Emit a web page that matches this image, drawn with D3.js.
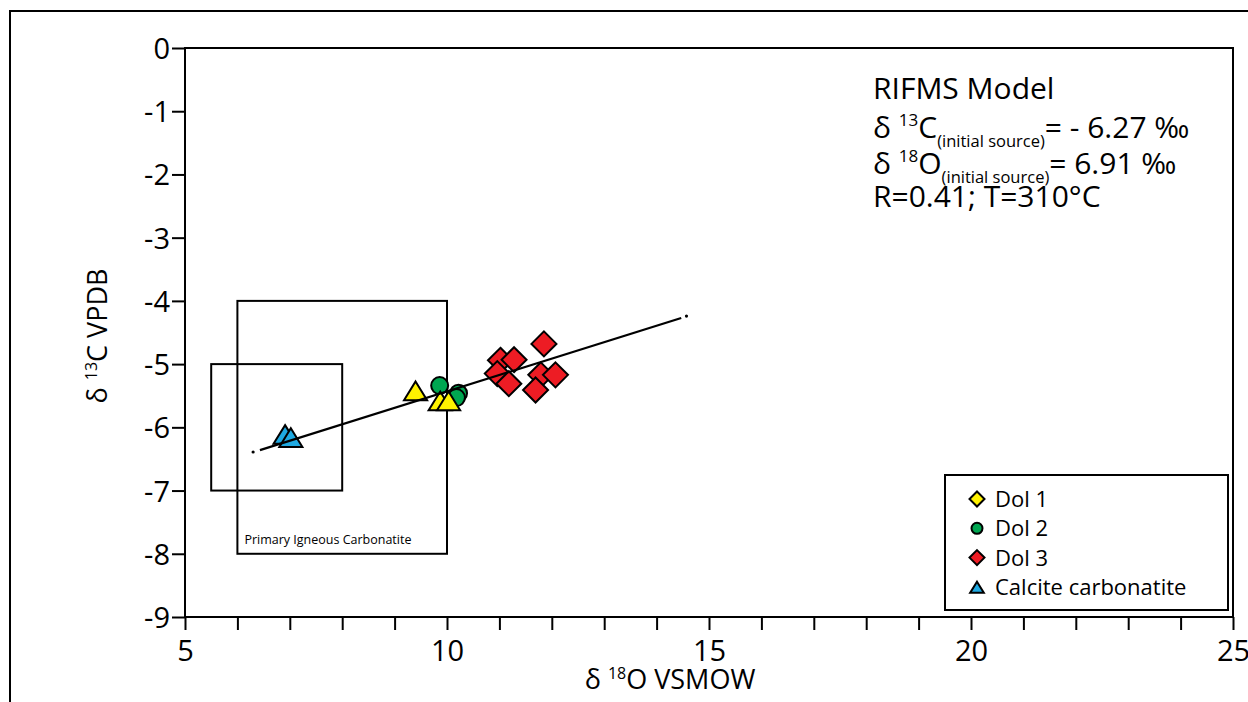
<!DOCTYPE html>
<html><head><meta charset="utf-8">
<script src="https://cdn.jsdelivr.net/npm/d3@7"></script>
<style>body{margin:0;background:#fff}svg{display:block;font-family:"Open Sans",sans-serif}</style>
</head><body><svg id="c" width="1248" height="702"></svg>
<script>
// ---- data ----
const xTicks = [5,6,7,8,9,10,11,12,13,14,15,16,17,18,19,20,21,22,23,24,25];
const xTickLabels = [5,10,15,20,25];
const yTicks = [0,-1,-2,-3,-4,-5,-6,-7,-8,-9];
const dol1 = [[9.40,-5.44],[9.87,-5.60],[10.03,-5.60]];
const dol2 = [[9.86,-5.34],[10.22,-5.46],[10.18,-5.53]];
const dol3 = [[11.85,-4.68],[11.02,-4.94],[11.28,-4.93],[10.96,-5.15],[11.18,-5.31],[11.79,-5.17],[12.07,-5.17],[11.69,-5.41]];
const calcite = [[6.91,-6.13],[7.02,-6.18]];
const modelLine = [[6.43,-6.36],[14.47,-4.27]];
const modelEnds = [[6.30,-6.39],[14.57,-4.24]];
const boxes = [{x0:5.5,x1:8,y0:-5,y1:-7},{x0:6,x1:10,y0:-4,y1:-8}];
const boxLabel = "Primary Igneous Carbonatite";
const legendItems = [
  {name:"Dol 1", shape:"diamond", color:"#fff200"},
  {name:"Dol 2", shape:"circle", color:"#00a651"},
  {name:"Dol 3", shape:"diamond", color:"#ed1c24"},
  {name:"Calcite carbonatite", shape:"triangle", color:"#1fa9e1"}
];

// ---- layout ----
const svg = d3.select("#c");
const x = d3.scaleLinear().domain([5,25]).range([185,1233]);
const y = d3.scaleLinear().domain([0,-9]).range([48,617]);

// outer frame
svg.append("rect").attr("x",10).attr("y",11).attr("width",1260).attr("height",720)
  .attr("fill","none").attr("stroke","#000").attr("stroke-width",2);

// plot frame
svg.append("rect").attr("x",x(5)).attr("y",y(0)).attr("width",x(25)-x(5)).attr("height",y(-9)-y(0))
  .attr("fill","none").attr("stroke","#000").attr("stroke-width",2);

// axes
const xAxis = d3.axisBottom(x).tickValues(xTicks).tickSize(13)
  .tickFormat(d => xTickLabels.includes(d) ? d : "");
const gx = svg.append("g").attr("transform",`translate(0,${y(-9)})`).call(xAxis);
gx.select(".domain").remove();
gx.selectAll("line").attr("stroke","#000").attr("stroke-width",2);
gx.selectAll("text").attr("font-size",29).attr("fill","#000").attr("font-family","Open Sans").attr("dy","0.98em");

const yAxis = d3.axisLeft(y).tickValues(yTicks).tickSize(13).tickFormat(d=>d);
const gy = svg.append("g").attr("transform",`translate(${x(5)},0)`).call(yAxis);
gy.select(".domain").remove();
gy.selectAll("line").attr("stroke","#000").attr("stroke-width",2);
gy.selectAll("text").attr("font-size",29).attr("fill","#000").attr("font-family","Open Sans").attr("x",-15).attr("dy","0.36em");

// axis titles
const xt = svg.append("text").attr("x",670).attr("y",689).attr("text-anchor","middle").attr("font-size",27);
xt.append("tspan").text("δ ");
xt.append("tspan").text("18").attr("font-size",16).attr("dy",-10);
xt.append("tspan").text("O VSMOW").attr("dy",10);
const yt = svg.append("text").attr("transform","translate(107,336) rotate(-90)").attr("text-anchor","middle").attr("font-size",27);
yt.append("tspan").text("δ ");
yt.append("tspan").text("13").attr("font-size",16).attr("dy",-10);
yt.append("tspan").text("C VPDB").attr("dy",10);

// boxes
svg.selectAll("rect.box").data(boxes).enter().append("rect").attr("class","box")
  .attr("x",d=>x(d.x0)).attr("y",d=>y(d.y0)).attr("width",d=>x(d.x1)-x(d.x0)).attr("height",d=>y(d.y1)-y(d.y0))
  .attr("fill","none").attr("stroke","#000").attr("stroke-width",2);
svg.append("text").attr("x",x(6)+7).attr("y",y(-8)-10).attr("font-size",12.5).text(boxLabel);

// symbols
const sym = {
  diamond: s => `M0,${-s}L${s},0L0,${s}L${-s},0Z`,
  triangle: s => `M0,${-s*0.95}L${s*1.05},${s*0.75}L${-s*1.05},${s*0.75}Z`
};
function drawPts(data, shape, color, size){
  const g = svg.append("g");
  data.forEach(p=>{
    if(shape==="circle"){
      g.append("circle").attr("cx",x(p[0])).attr("cy",y(p[1])).attr("r",size)
        .attr("fill",color).attr("stroke","#000").attr("stroke-width",2);
    } else {
      g.append("path").attr("d",sym[shape](size)).attr("transform",`translate(${x(p[0])},${y(p[1])})`)
        .attr("fill",color).attr("stroke","#000").attr("stroke-width",2).attr("stroke-linejoin","miter");
    }
  });
}
drawPts(calcite,"triangle","#1fa9e1",11);
drawPts(dol3,"diamond","#ed1c24",12.5);
drawPts(dol2,"circle","#00a651",8.5);
drawPts(dol1,"triangle","#fff200",11);

// model line
svg.append("path").attr("d",d3.line().x(d=>x(d[0])).y(d=>y(d[1]))(modelLine))
  .attr("fill","none").attr("stroke","#000").attr("stroke-width",2.2);
svg.selectAll("circle.end").data(modelEnds).enter().append("circle").attr("class","end")
  .attr("cx",d=>x(d[0])).attr("cy",d=>y(d[1])).attr("r",1.6).attr("fill","#000");

// annotation
const ax = 873;
svg.append("text").attr("x",ax).attr("y",99).attr("font-size",30).text("RIFMS Model");
function isoLine(yy, iso, el, val){
  const t = svg.append("text").attr("x",ax).attr("y",yy).attr("font-size",30);
  t.append("tspan").text("δ ");
  t.append("tspan").text(iso).attr("font-size",17).attr("dy",-12);
  t.append("tspan").text(el).attr("dy",12);
  t.append("tspan").text("(initial source)").attr("font-size",16.5).attr("dy",9);
  t.append("tspan").text(val).attr("dy",-9);
}
isoLine(138,"13","C","= - 6.27 ‰");
isoLine(174,"18","O","= 6.91 ‰");
svg.append("text").attr("x",ax).attr("y",207).attr("font-size",30).text("R=0.41; T=310°C");

// legend
const lg = svg.append("g");
lg.append("rect").attr("x",945).attr("y",475).attr("width",283).attr("height",135)
  .attr("fill","#fff").attr("stroke","#000").attr("stroke-width",2);
legendItems.forEach((d,i)=>{
  const cy = 499 + i*29.3;
  if(d.shape==="circle"){
    lg.append("circle").attr("cx",977).attr("cy",cy).attr("r",5.5).attr("fill",d.color).attr("stroke","#000").attr("stroke-width",2);
  } else {
    lg.append("path").attr("d",sym[d.shape](d.shape==="diamond"?7.5:6.5)).attr("transform",`translate(977,${cy+(d.shape==="triangle"?1:0)})`)
      .attr("fill",d.color).attr("stroke","#000").attr("stroke-width",2);
  }
  lg.append("text").attr("x",995).attr("y",cy+8).attr("font-size",22).text(d.name);
});
</script></body></html>
